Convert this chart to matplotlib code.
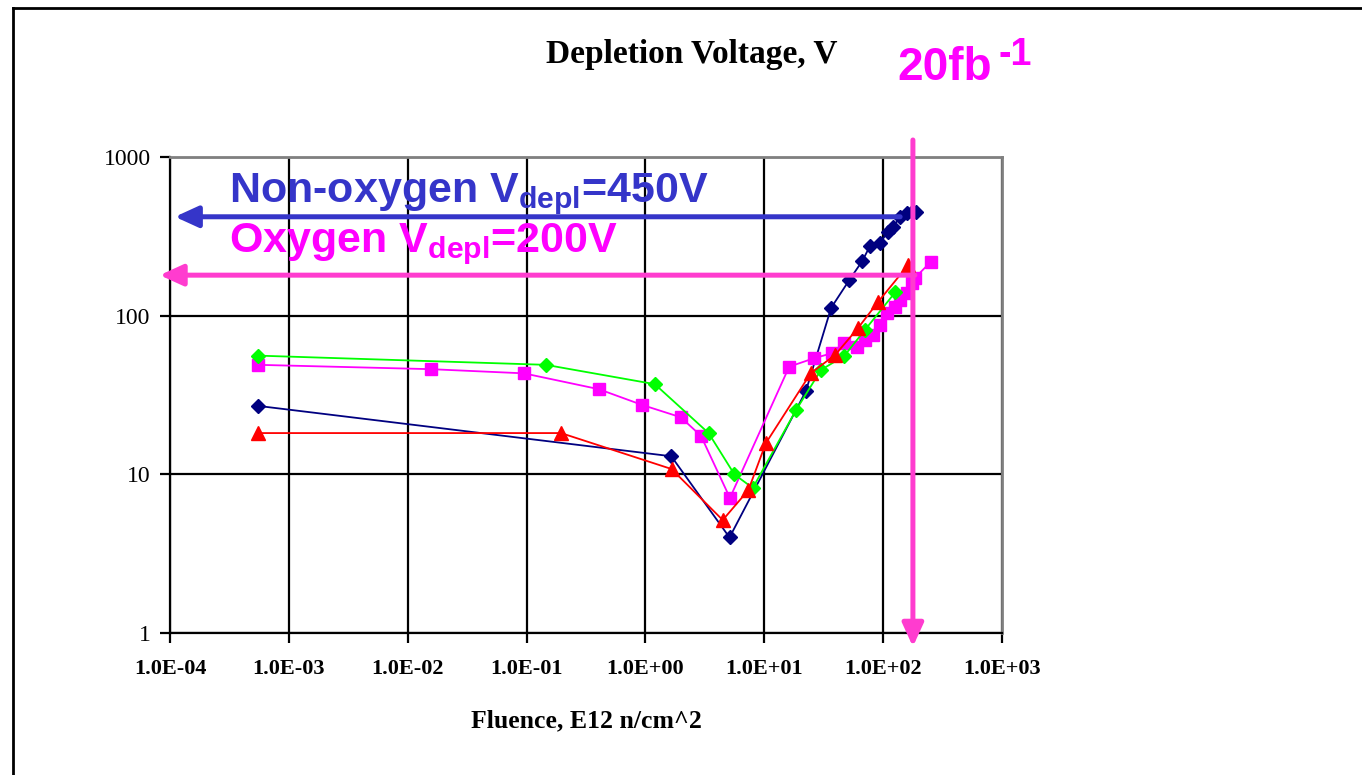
import matplotlib
matplotlib.use('Agg')
import matplotlib.pyplot as plt
from matplotlib.lines import Line2D
from matplotlib.ticker import FixedLocator, FixedFormatter, NullLocator

plt.rcParams['font.family'] = 'Liberation Serif'
plt.rcParams['mathtext.fontset'] = 'custom'
plt.rcParams['mathtext.rm'] = 'Liberation Sans:bold'
plt.rcParams['mathtext.it'] = 'Liberation Sans:bold'
plt.rcParams['mathtext.bf'] = 'Liberation Sans:bold'

# fluence in E12 n/cm^2, depletion voltage in V
navy_fluence = [5.5e-4, 1.65, 5.1, 22.4, 36.5, 52, 67, 77.5, 94, 110, 122, 139, 158, 174, 190]
navy_volts = [27, 13, 4.0, 33.5, 112, 168, 222, 275, 288, 338, 364, 421, 442, 452, 452]

green_fluence = [5.5e-4, 0.145, 1.2, 3.4, 5.6, 8.0, 18.5, 30, 47, 70, 126]
green_volts = [56, 49, 37, 18.2, 10, 8.2, 25.4, 45.5, 55.7, 81, 140]

pink_fluence = [5.5e-4, 0.0157, 0.095, 0.406, 0.935, 1.98, 2.93, 5.14, 16.2, 26.2, 36.9,
                46.5, 59.7, 70.6, 82.7, 94, 107, 126, 139, 158, 174, 185, 251]
pink_volts = [49, 46, 43.3, 34.4, 27.4, 22.9, 17.5, 7.1, 47.7, 53.9, 57.9,
              67, 63.7, 70.3, 75.5, 87.4, 104, 114, 126, 139, 161, 173, 218]

red_fluence = [5.5e-4, 0.195, 1.66, 4.47, 7.35, 10.3, 24.6, 39.4, 61.5, 90.6, 162]
red_volts = [18.2, 18.2, 10.8, 5.15, 7.96, 15.7, 43.4, 56.5, 83.6, 122, 208]

decades = [1e-4, 1e-3, 1e-2, 1e-1, 1e0, 1e1, 1e2, 1e3]
decade_labels = ['1.0E-04', '1.0E-03', '1.0E-02', '1.0E-01',
                 '1.0E+00', '1.0E+01', '1.0E+02', '1.0E+03']
volt_ticks = [1, 10, 100, 1000]
volt_labels = ['1', '10', '100', '1000']

# depletion limits marked with arrows
nonoxy_limit = 420
oxy_limit = 180
lumi_fluence = 178

BLUE = '#3535c9'
PINK = '#ff3ccf'
MAGENTA = '#ff00ff'

fig = plt.figure(figsize=(13.62, 7.75), dpi=100)
ax = fig.add_axes([170 / 1362, 1 - 633 / 775, 832 / 1362, 476 / 775])

ax.plot(navy_fluence, navy_volts, color='#000080', marker='D', ms=7, lw=1.3)
ax.plot(pink_fluence, pink_volts, color='#ff00ff', marker='s', ms=8.5, lw=1.3)
ax.plot(green_fluence, green_volts, color='#00ff00', marker='D', ms=7.5, lw=1.3)
ax.plot(red_fluence, red_volts, color='#ff0000', marker='^', ms=10, lw=1.3)

ax.set_xscale('log')
ax.set_yscale('log')
ax.set_xlim(1e-4, 1e3)
ax.set_ylim(1, 1000)
ax.xaxis.set_major_locator(FixedLocator(decades))
ax.xaxis.set_major_formatter(FixedFormatter(decade_labels))
ax.yaxis.set_major_locator(FixedLocator(volt_ticks))
ax.yaxis.set_major_formatter(FixedFormatter(volt_labels))
ax.xaxis.set_minor_locator(NullLocator())
ax.yaxis.set_minor_locator(NullLocator())
ax.grid(True, which='major', color='black', lw=1.6)

for side in ['top', 'right']:
    ax.spines[side].set_color('#808080')
    ax.spines[side].set_linewidth(2)
for side in ['left', 'bottom']:
    ax.spines[side].set_color('black')
    ax.spines[side].set_linewidth(1.6)

ax.tick_params(axis='x', direction='out', length=7, width=1.6, pad=12, labelsize=16)
ax.tick_params(axis='y', direction='out', length=7, width=1.6, pad=7, labelsize=17)
for lab in ax.get_xticklabels():
    lab.set_fontweight('bold')

fig.text(692 / 1362, 1 - 63 / 775, 'Depletion Voltage, V', ha='center', va='baseline',
         fontsize=24, fontweight='bold')
fig.text(586 / 1362, 1 - 727 / 775, 'Fluence, E12 n/cm^2', ha='center', va='baseline',
         fontsize=18.5, fontweight='bold')
fig.text(897 / 1362, 1 - 80 / 775, '20fb', ha='left', va='baseline',
         fontsize=33, family='Liberation Sans', fontweight='bold', color=MAGENTA)
fig.text(999 / 1362, 1 - 65 / 775, '-1', ha='left', va='baseline',
         fontsize=27, family='Liberation Sans', fontweight='bold', color=MAGENTA)

ax.text(0.071, 0.906, r'Non-oxygen V$_{\mathrm{depl}}$=450V', transform=ax.transAxes,
        ha='left', va='baseline', fontsize=31, family='Liberation Sans',
        fontweight='bold', color=BLUE)
ax.text(0.071, 0.801, r'Oxygen V$_{\mathrm{depl}}$=200V', transform=ax.transAxes,
        ha='left', va='baseline', fontsize=31, family='Liberation Sans',
        fontweight='bold', color=MAGENTA)

arrow_style = '-|>,head_length=0.7,head_width=0.32'
ax.annotate('', xy=(1.1e-4, nonoxy_limit), xytext=(139, nonoxy_limit),
            arrowprops=dict(arrowstyle=arrow_style, color=BLUE, lw=3.6,
                            shrinkA=0, shrinkB=0, mutation_scale=20),
            annotation_clip=False)
ax.annotate('', xy=(8.2e-5, oxy_limit), xytext=(185, oxy_limit),
            arrowprops=dict(arrowstyle=arrow_style, color=PINK, lw=3.6,
                            shrinkA=0, shrinkB=0, mutation_scale=20),
            annotation_clip=False)
ax.annotate('', xy=(lumi_fluence, 0.82), xytext=(lumi_fluence, 1280),
            arrowprops=dict(arrowstyle=arrow_style, color=PINK, lw=3.6,
                            shrinkA=0, shrinkB=0, mutation_scale=20),
            annotation_clip=False)

# outer frame on the left and top
fig.add_artist(Line2D([13 / 1362, 13 / 1362], [0, 1 - 8 / 775],
                      transform=fig.transFigure, color='black', lw=2))
fig.add_artist(Line2D([13 / 1362, 1], [1 - 8 / 775, 1 - 8 / 775],
                      transform=fig.transFigure, color='black', lw=2))

fig.savefig('out.png', dpi=100)
